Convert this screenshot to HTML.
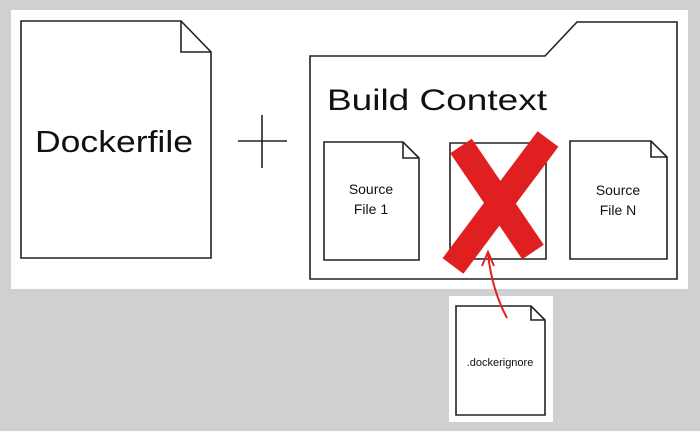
<!DOCTYPE html>
<html><head><meta charset="utf-8"><style>
html,body{margin:0;padding:0;width:700px;height:431px;overflow:hidden;background:#d0d0d0}
</style></head><body>
<svg width="700" height="431" viewBox="0 0 700 431" xmlns="http://www.w3.org/2000/svg" font-family="'Liberation Sans', 'DejaVu Sans', sans-serif">
<rect x="11" y="10" width="677" height="279" fill="#fff"/>
<rect x="449" y="296" width="104" height="126" fill="#fff"/>
<g fill="none" stroke="#222" stroke-width="1.6">
<path d="M21,21 H181 L211,52 V258 H21 Z"/>
<path d="M181,21 V52 H211"/>
<path d="M238,141 H287 M262,115 V168"/>
<path d="M310,56 H545 L577,22 H677 V279 H310 Z"/>
<path d="M324,142 H403 L419,158 V260 H324 Z M403,142 V158 H419"/>
<path d="M450,143 H546 V259 H450 Z"/>
<path d="M570,141 H651 L667,157 V259 H570 Z M651,141 V157 H667"/>
<path d="M456,306 H531 L545,320 V415 H456 Z M531,306 V320 H545"/>
</g>
<text x="35" y="152" font-size="31" fill="#111" textLength="158" lengthAdjust="spacingAndGlyphs">Dockerfile</text>
<text x="327" y="110" font-size="30" fill="#111" textLength="220" lengthAdjust="spacingAndGlyphs">Build Context</text>
<g font-size="14" fill="#111" text-anchor="middle">
<text x="371" y="194">Source</text><text x="371" y="214">File 1</text>
<text x="618" y="195">Source</text><text x="618" y="215">File N</text>
<text x="500" y="366" font-size="11">.dockerignore</text>
</g>
<g stroke="#e02020" fill="none">
<path d="M461,146 L533,252" stroke-width="26"/>
<path d="M548,139 L453,266" stroke-width="26"/>
<path d="M507,318 Q492,290 488,254" stroke-width="2"/>
<path d="M482,266 L488,252 L494,266" stroke-width="2"/>
</g>
</svg>
</body></html>
